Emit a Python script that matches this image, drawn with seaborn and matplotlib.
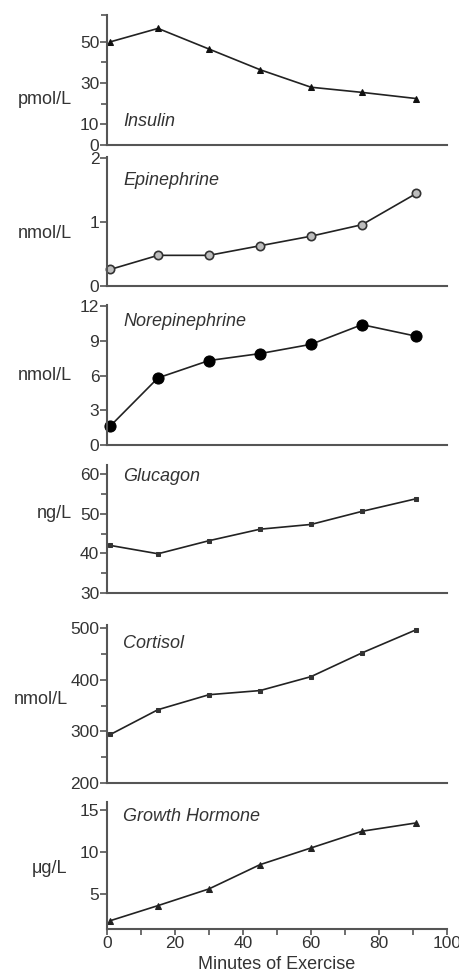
import seaborn as sns
import pandas as pd
import matplotlib.pyplot as plt
from matplotlib.ticker import FixedLocator, NullFormatter

# minutes of exercise at each sample
minutes = [1, 15, 30, 45, 60, 75, 91]

insulin = [50, 56.5, 46.5, 36.5, 28, 25.5, 22.5]
epinephrine = [0.26, 0.48, 0.48, 0.63, 0.78, 0.96, 1.45]
norepinephrine = [1.65, 5.8, 7.3, 7.9, 8.7, 10.4, 9.4]
glucagon = [42.0, 39.9, 43.2, 46.1, 47.3, 50.6, 53.8]
cortisol = [294, 342, 371, 379, 406, 452, 497]
growth_hormone = [1.8, 3.6, 5.6, 8.5, 10.5, 12.5, 13.5]

names = ['Insulin', 'Epinephrine', 'Norepinephrine', 'Glucagon', 'Cortisol', 'Growth Hormone']
units = ['pmol/L', 'nmol/L', 'nmol/L', 'ng/L', 'nmol/L', '\u03bcg/L']
series = [insulin, epinephrine, norepinephrine, glucagon, cortisol, growth_hormone]

sns.set_style('ticks')
plt.rcParams['font.family'] = ['Liberation Sans', 'DejaVu Sans']

W, H = 459, 971
fig = plt.figure(figsize=(W / 100, H / 100), dpi=100)

# panel boxes in pixels: (top, bottom)
boxes = [(15, 145), (157, 286), (305, 445), (465, 593), (625, 783), (802, 929)]
left_px, right_px = 107, 447

ylims = [(0, 63), (0, 2.02), (0, 12.1), (30, 62.3), (200, 506), (0.8, 16)]
major = [[0, 10, 30, 50], [0, 1, 2], [0, 3, 6, 9, 12], [30, 40, 50, 60],
         [200, 300, 400, 500], [5, 10, 15]]
minor = [[20, 40, 63], [], [], [35, 45, 55], [250, 350, 450], []]
name_y = [0.18, 0.82, 0.88, 0.91, 0.885, 0.885]
unit_pos = [(72, 100), (72, 233), (72, 376), (72, 513), (68, 699), (67, 868)]

styles = [
    dict(marker='^', markersize=5, color='#222222', markerfacecolor='#111111', markeredgecolor='#111111'),
    dict(marker='o', markersize=6, color='#222222', markerfacecolor='#bdbdbd', markeredgecolor='#333333', markeredgewidth=1.2),
    dict(marker='o', markersize=8, color='#222222', markerfacecolor='#000000', markeredgecolor='#000000'),
    dict(marker='s', markersize=3, color='#222222', markerfacecolor='#333333', markeredgecolor='#333333'),
    dict(marker='s', markersize=3, color='#222222', markerfacecolor='#333333', markeredgecolor='#333333'),
    dict(marker='^', markersize=4, color='#222222', markerfacecolor='#222222', markeredgecolor='#222222'),
]

txt = '#333333'
for i, (top, bot) in enumerate(boxes):
    ax = fig.add_axes([left_px / W, 1 - bot / H, (right_px - left_px) / W, (bot - top) / H])
    df = pd.DataFrame({'min': minutes, 'val': series[i]})
    sns.lineplot(data=df, x='min', y='val', ax=ax, linewidth=1.2, clip_on=False, **styles[i])
    ax.set_xlim(0, 100)
    ax.set_ylim(*ylims[i])
    ax.yaxis.set_major_locator(FixedLocator(major[i]))
    ax.yaxis.set_minor_locator(FixedLocator(minor[i]))
    ax.yaxis.set_minor_formatter(NullFormatter())
    ax.set_xlabel('')
    ax.set_ylabel('')
    for s in ['top', 'right']:
        ax.spines[s].set_visible(False)
    for s in ['left', 'bottom']:
        ax.spines[s].set_color('#555555')
        ax.spines[s].set_linewidth(1.5)
    ax.tick_params(axis='y', which='major', direction='out', length=5, width=1.2,
                   color='#555555', labelsize=12.5, labelcolor=txt, pad=0.5)
    ax.tick_params(axis='y', which='minor', direction='out', length=4, width=1.2, color='#555555')
    ax.text(0.047, name_y[i], names[i], transform=ax.transAxes, style='italic',
            fontsize=13, color=txt, ha='left', va='center')
    ux, uy = unit_pos[i]
    fig.text(ux / W, 1 - uy / H, units[i], fontsize=13, color=txt, ha='right', va='center')
    if i < 5:
        ax.set_xticks([])
    else:
        ax.set_xticks([0, 20, 40, 60, 80, 100])
        ax.set_xticks([10, 30, 50, 70, 90], minor=True)
        ax.tick_params(axis='x', which='both', direction='out', length=4, width=1.2,
                       color='#555555', labelsize=12.5, labelcolor=txt, pad=1)
        ax.set_xlabel('Minutes of Exercise', fontsize=13, color=txt, labelpad=3.5)

fig.savefig('out.png', dpi=100)
